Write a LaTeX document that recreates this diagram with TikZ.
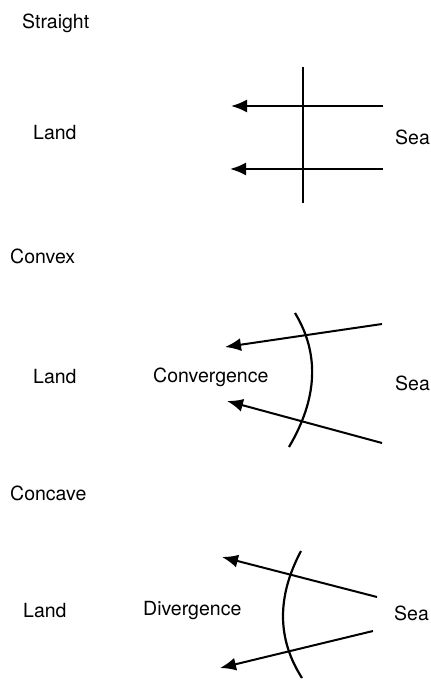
\documentclass[tikz,border=0pt]{standalone}
\usepackage{fontspec}
\setmainfont{TeX Gyre Heros}
\usetikzlibrary{arrows.meta}

\begin{document}
\begin{tikzpicture}[x=1pt, y=-1pt, >={Latex[length=16pt,width=13pt]},
  lbl/.style={font=\fontsize{19.5}{22}\selectfont, inner sep=0pt, anchor=west},
  ray/.style={->, line width=2pt},
  coast/.style={line width=2.2pt}]
  \useasboundingbox (0,0) rectangle (431,680);
  % Straight coast
  \node[lbl] (straight) at (22,23) {Straight};
  \node[lbl] (land1) at (33,133) {Land};
  \node[lbl] (sea1) at (395,137) {Sea};
  \coordinate (c1top) at (303,67);
  \coordinate (c1bot) at (303,203);
  \draw[coast] (c1top) -- (c1bot);
  \coordinate (r1a) at (383,106);  \coordinate (t1a) at (231,106);
  \coordinate (r1b) at (383,169);  \coordinate (t1b) at (230,169);
  \draw[ray] (r1a) -- (t1a);
  \draw[ray] (r1b) -- (t1b);
  % Convex coast
  \node[lbl] (convex) at (10,256) {Convex};
  \node[lbl] (land2) at (33,377) {Land};
  \node[lbl] (conv) at (153,377) {Convergence};
  \node[lbl] (sea2) at (395,383) {Sea};
  \coordinate (c2top) at (295,313);
  \coordinate (c2bot) at (289,447);
  \draw[coast] (c2top) .. controls (319.7,353.7) and (317.7,398.3) .. (c2bot);
  \coordinate (r2a) at (382,324);  \coordinate (t2a) at (225,347);
  \coordinate (r2b) at (382,443);  \coordinate (t2b) at (227,401);
  \draw[ray] (r2a) -- (t2a);
  \draw[ray] (r2b) -- (t2b);
  % Concave coast
  \node[lbl] (concave) at (10,493) {Concave};
  \node[lbl] (land3) at (23,611) {Land};
  \node[lbl] (div) at (143,611) {Divergence};
  \node[lbl] (sea3) at (394,613) {Sea};
  \coordinate (c3top) at (301,551);
  \coordinate (c3bot) at (302,678);
  \draw[coast] (c3top) .. controls (276.7,596.7) and (277,639) .. (c3bot);
  \coordinate (r3a) at (377,597);  \coordinate (t3a) at (222,557);
  \coordinate (r3b) at (373,631);  \coordinate (t3b) at (220,668);
  \draw[ray] (r3a) -- (t3a);
  \draw[ray] (r3b) -- (t3b);
\end{tikzpicture}
\end{document}
